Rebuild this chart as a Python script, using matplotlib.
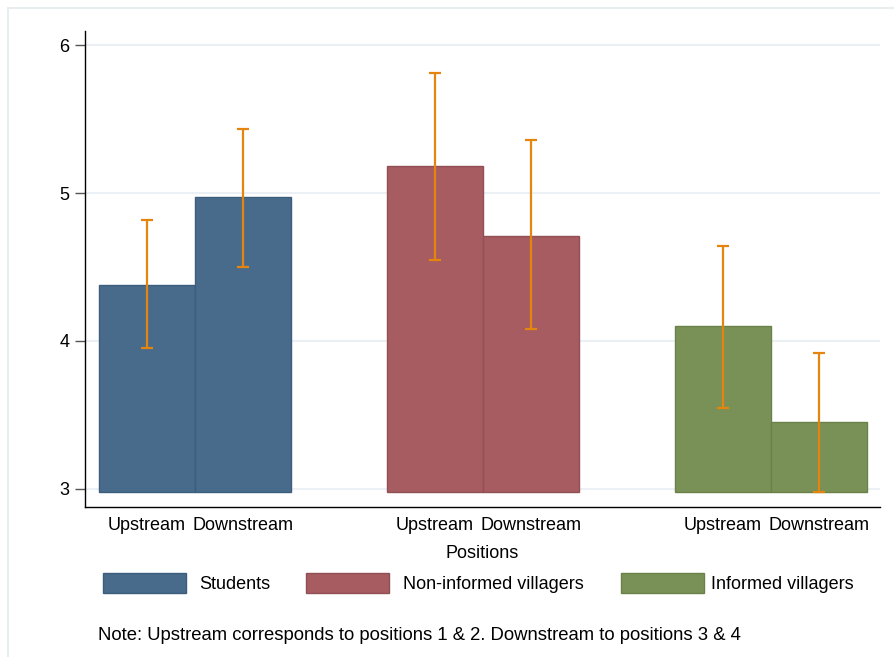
import matplotlib.pyplot as plt
from matplotlib.patches import Patch, Rectangle
import numpy as np

plt.rcParams['font.family'] = ['Liberation Sans', 'DejaVu Sans']

groups = ['Students', 'Non-informed villagers', 'Informed villagers']
positions = ['Upstream', 'Downstream']
means = [[4.38, 4.97], [5.18, 4.71], [4.10, 3.45]]
ci_low = [[3.95, 4.50], [4.55, 4.08], [3.55, 2.98]]
ci_high = [[4.82, 5.43], [5.81, 5.36], [4.64, 3.92]]
base = 2.98

colors = ['#486b8c', '#a65c61', '#799156']
edges = ['#3c5d7c', '#924f55', '#6a8249']
err_color = '#e6850e'

fig = plt.figure(figsize=(8.94, 6.57), dpi=100)
# outer frame, only top and left edges visible
fig.patches.append(Rectangle((8 / 894, -0.1), 1.2, 1 - 8 / 657 + 0.1,
                             transform=fig.transFigure, fill=False,
                             edgecolor='#e8eef0', lw=1.5))

ax = fig.add_axes([85 / 894, 1 - 507 / 657, 795 / 894, 476 / 657])

centers = np.array([0, 3, 6])
offsets = [-0.5, 0.5]
xt, xl = [], []
for g in range(len(groups)):
    for p in range(len(positions)):
        x = centers[g] + offsets[p]
        m = means[g][p]
        ax.bar(x, m - base, bottom=base, width=1.0, color=colors[g],
               edgecolor=edges[g], linewidth=1, zorder=2)
        ax.errorbar(x, m, yerr=[[m - ci_low[g][p]], [ci_high[g][p] - m]],
                    fmt='none', ecolor=err_color, elinewidth=1.6,
                    capsize=4, capthick=1.6, zorder=3)
        xt.append(x)
        xl.append(positions[p])

ax.set_xlim(-1.146, 7.135)
ax.set_ylim(2.878, 6.095)
ax.set_yticks([3, 4, 5, 6])
ax.set_yticklabels(['3', '4', '5', '6'], fontsize=13)
ax.set_xticks(xt)
ax.set_xticklabels(xl, fontsize=13)
ax.tick_params(axis='x', length=0, pad=7)
ax.tick_params(axis='y', length=7, width=1, color='#555555', pad=4)
ax.grid(axis='y', color='#eaf0f3', lw=1.5, zorder=0)
ax.set_axisbelow(True)
for s in ['top', 'right']:
    ax.spines[s].set_visible(False)
ax.spines['left'].set_linewidth(1)
ax.spines['bottom'].set_linewidth(1)
ax.set_xlabel('Positions', fontsize=13, labelpad=8)

leg_x = [103 / 894, 306 / 894, 621 / 894]
pads = [0.75, 0.75, 0.4]
for g in range(len(groups)):
    h = Patch(facecolor=colors[g], edgecolor=edges[g], lw=1)
    lg = fig.legend(handles=[h], labels=[groups[g]], loc='center left',
                    bbox_to_anchor=(leg_x[g], 1 - 583 / 657), frameon=False,
                    borderpad=0, borderaxespad=0, handlelength=4.6,
                    handleheight=1.3, handletextpad=pads[g], fontsize=13)

fig.text(98 / 894, 1 - 635 / 657,
         'Note: Upstream corresponds to positions 1 & 2. Downstream to positions 3 & 4',
         fontsize=13.3, va='center', ha='left')

fig.savefig('out.png', dpi=100)
